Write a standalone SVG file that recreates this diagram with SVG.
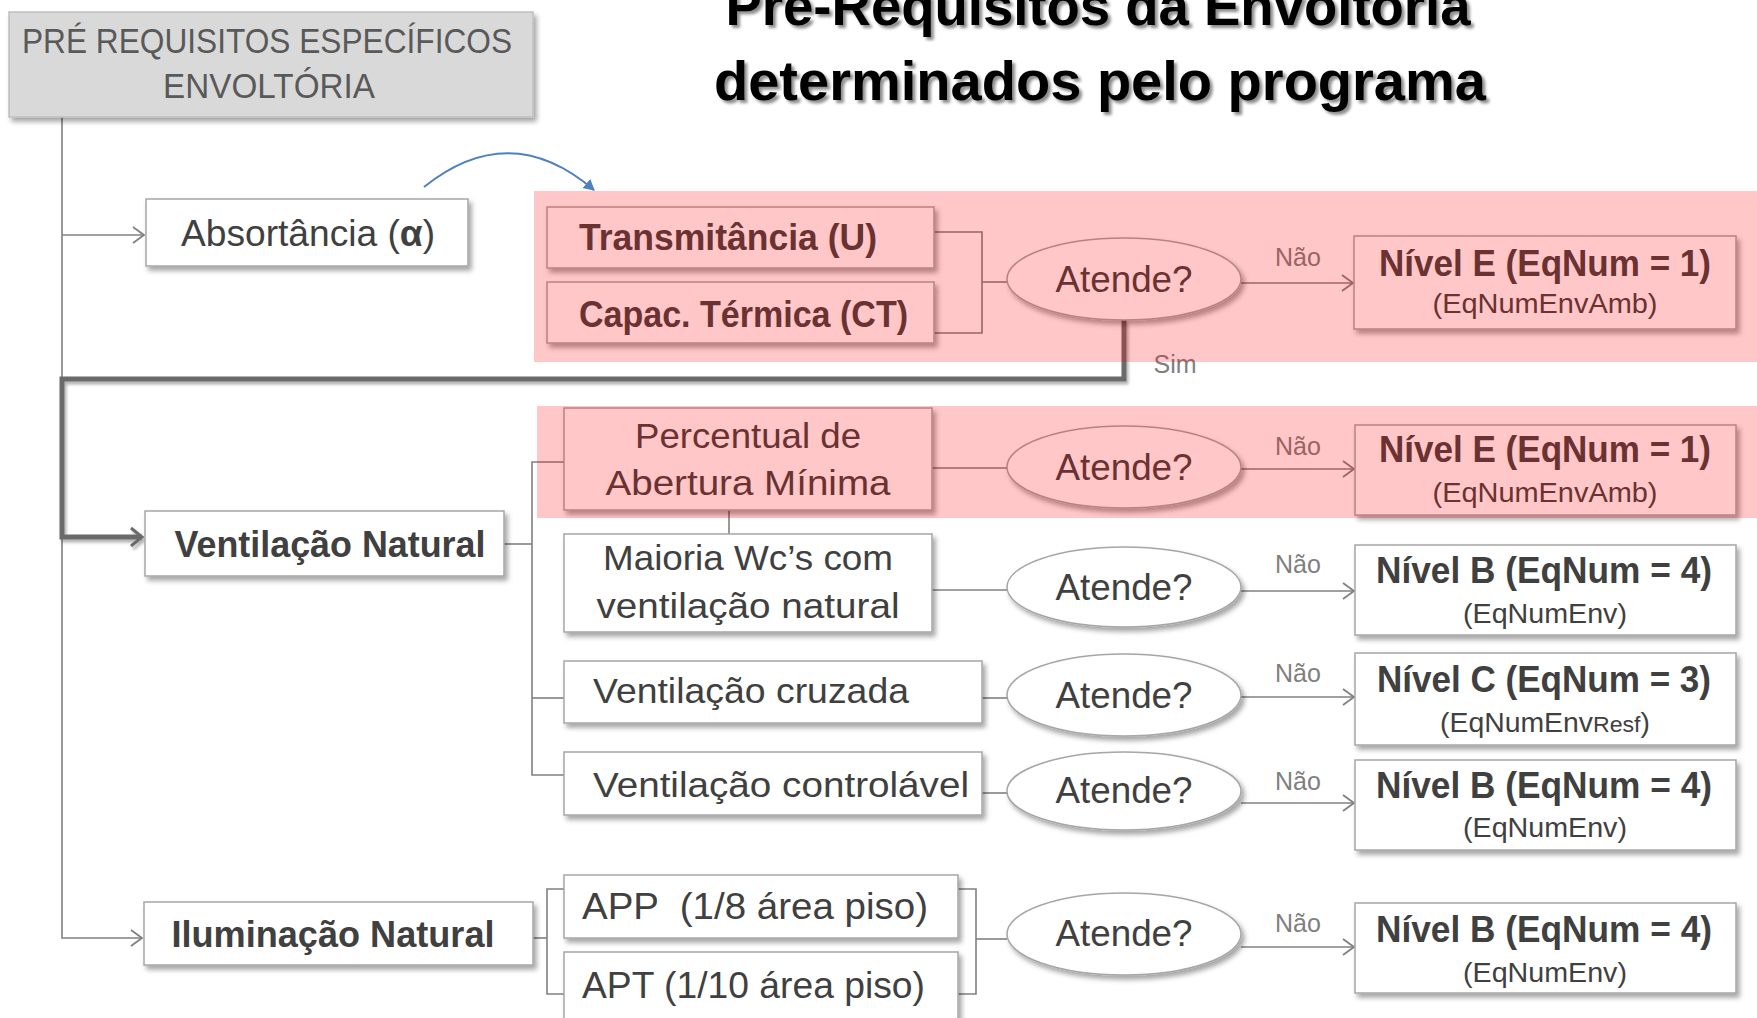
<svg xmlns="http://www.w3.org/2000/svg" width="1757" height="1018" viewBox="0 0 1757 1018">
<style>
.box{fill:#fff;stroke:#a6a6a6;stroke-width:1.5;filter:url(#sh)}
.hdr{fill:#d9d9d9;stroke:#bfbfbf;stroke-width:1.5;filter:url(#sh)}
.ell{fill:#fff;stroke:#a6a6a6;stroke-width:1.5;filter:url(#sh)}
.ln{stroke:#808080;stroke-width:1.6;fill:none}
.arr{marker-end:url(#chev)}
.thick{stroke:#6b6b6b;stroke-width:5;fill:none;marker-end:url(#chevT);filter:url(#shl)}
.t{font-family:'Liberation Sans',Arial,sans-serif;fill:#404040}
.b{font-weight:bold}
.m{text-anchor:middle}
.nao{font-family:'Liberation Sans',Arial,sans-serif;fill:#7f7f7f;font-size:25px;text-anchor:middle}
.pink{fill:#ff0000;fill-opacity:0.22}
.title{font-family:'Liberation Sans',Arial,sans-serif;font-weight:bold;font-size:56px;fill:#000;text-anchor:middle;filter:url(#tsh)}
</style>
<defs>
<filter id="sh" x="-10%" y="-20%" width="125%" height="150%">
<feDropShadow dx="3" dy="4" stdDeviation="2.5" flood-color="#000" flood-opacity="0.35"/>
</filter>
<filter id="shl" x="-5%" y="-5%" width="110%" height="115%">
<feDropShadow dx="2" dy="3" stdDeviation="1.5" flood-color="#000" flood-opacity="0.3"/>
</filter>
<filter id="tsh" x="-5%" y="-20%" width="110%" height="150%">
<feDropShadow dx="3" dy="3" stdDeviation="1.5" flood-color="#000" flood-opacity="0.45"/>
</filter>
<marker id="chev" markerUnits="userSpaceOnUse" markerWidth="16" markerHeight="20" refX="13" refY="10" orient="auto">
<path d="M2,2 L13,10 L2,18" fill="none" stroke="#808080" stroke-width="1.8"/>
</marker>
<marker id="chevT" markerUnits="userSpaceOnUse" markerWidth="18" markerHeight="24" refX="14" refY="12" orient="auto">
<path d="M3,3 L14,12 L3,21" fill="none" stroke="#6b6b6b" stroke-width="3"/>
</marker>
<marker id="blueArr" markerUnits="userSpaceOnUse" markerWidth="14" markerHeight="14" refX="10" refY="7" orient="auto">
<path d="M0,1 L11,7 L0,13 Z" fill="#4f81bd"/>
</marker>
</defs>

<text class="title" x="1098" y="25" textLength="745" lengthAdjust="spacingAndGlyphs">Pré-Requisitos da Envoltória</text>
<text class="title" x="1100" y="100" textLength="772" lengthAdjust="spacingAndGlyphs">determinados pelo programa</text>

<g id="connectors">
<path class="ln arr" d="M62,117 V938 H142"/>
<path class="ln arr" d="M62,235 H144"/>
<path d="M424,187 Q510,118 594,190" fill="none" stroke="#4f81bd" stroke-width="2" marker-end="url(#blueArr)"/>
<path class="ln" d="M934,232 H982 V333 H934"/>
<path class="ln" d="M982,282 H1007"/>
<path class="ln arr" d="M1241,283 H1353"/>
<path class="thick" d="M1124,320 V379 H62 V537 H142"/>
<path class="ln" d="M932,468 H1007"/>
<path class="ln arr" d="M1241,469 H1354"/>
<path class="ln" d="M504,544 H532"/>
<path class="ln" d="M564,462 H532 V775 H564"/>
<path class="ln" d="M532,698 H564"/>
<path class="ln" d="M729,510 V534"/>
<path class="ln" d="M932,590 H1007"/>
<path class="ln arr" d="M1241,591 H1354"/>
<path class="ln" d="M982,698 H1007"/>
<path class="ln arr" d="M1241,697 H1354"/>
<path class="ln" d="M982,793 H1007"/>
<path class="ln arr" d="M1241,803 H1354"/>
<path class="ln" d="M533,938 H547"/>
<path class="ln" d="M564,889 H547 V994 H564"/>
<path class="ln" d="M958,889 H976 V994 H958"/>
<path class="ln" d="M976,939 H1007"/>
<path class="ln arr" d="M1241,947 H1354"/>
<text class="nao" x="1298" y="266">Não</text>
<text class="nao" x="1298" y="455">Não</text>
<text class="nao" x="1298" y="573">Não</text>
<text class="nao" x="1298" y="682">Não</text>
<text class="nao" x="1298" y="790">Não</text>
<text class="nao" x="1298" y="932">Não</text>
<text class="nao" x="1175" y="373">Sim</text>
</g>

<g id="header">
<rect class="hdr" x="9" y="12" width="524" height="105"/>
<text class="t m" x="267" y="53" font-size="35" fill="#595959" style="fill:#595959" textLength="490" lengthAdjust="spacingAndGlyphs">PRÉ REQUISITOS ESPECÍFICOS</text>
<text class="t m" x="269" y="98" font-size="35" style="fill:#595959" textLength="212" lengthAdjust="spacingAndGlyphs">ENVOLTÓRIA</text>
</g>

<g id="absortancia">
<rect class="box" x="146" y="199" width="322" height="67"/>
<text class="t" x="181" y="246" font-size="37" textLength="254" lengthAdjust="spacingAndGlyphs">Absortância (<tspan font-weight="bold">α</tspan>)</text>
</g>

<g id="transmitancia">
<rect class="box" x="547" y="207" width="387" height="61"/>
<text class="t b" x="579" y="250" font-size="37" textLength="298" lengthAdjust="spacingAndGlyphs">Transmitância (U)</text>
</g>
<g id="capacidade">
<rect class="box" x="547" y="282" width="387" height="61"/>
<text class="t b" x="579" y="327" font-size="37" textLength="329" lengthAdjust="spacingAndGlyphs">Capac. Térmica (CT)</text>
</g>

<g id="atende1">
<ellipse class="ell" cx="1124" cy="279" rx="117" ry="41"/>
<text class="t m" x="1124" y="292" font-size="37" textLength="137" lengthAdjust="spacingAndGlyphs">Atende?</text>
</g>
<g id="nivel1">
<rect class="box" x="1354" y="236" width="382" height="93"/>
<text class="t m b" x="1545" y="276" font-size="36" textLength="332" lengthAdjust="spacingAndGlyphs">Nível E (EqNum = 1)</text>
<text class="t m" x="1545" y="313" font-size="27" textLength="225" lengthAdjust="spacingAndGlyphs">(EqNumEnvAmb)</text>
</g>

<g id="ventilacao-natural">
<rect class="box" x="145" y="511" width="359" height="65"/>
<text class="t m b" x="330" y="557" font-size="36" textLength="311" lengthAdjust="spacingAndGlyphs">Ventilação Natural</text>
</g>

<g id="percentual">
<rect class="box" x="564" y="408" width="368" height="102"/>
<text class="t m" x="748" y="448" font-size="35" textLength="226" lengthAdjust="spacingAndGlyphs">Percentual de</text>
<text class="t m" x="748" y="495" font-size="35" textLength="285" lengthAdjust="spacingAndGlyphs">Abertura Mínima</text>
</g>
<g id="atende2">
<ellipse class="ell" cx="1124" cy="467" rx="117" ry="41"/>
<text class="t m" x="1124" y="480" font-size="37" textLength="137" lengthAdjust="spacingAndGlyphs">Atende?</text>
</g>
<g id="nivel2">
<rect class="box" x="1355" y="425" width="381" height="90"/>
<text class="t m b" x="1545" y="462" font-size="36" textLength="332" lengthAdjust="spacingAndGlyphs">Nível E (EqNum = 1)</text>
<text class="t m" x="1545" y="502" font-size="27" textLength="225" lengthAdjust="spacingAndGlyphs">(EqNumEnvAmb)</text>
</g>

<g id="maioria">
<rect class="box" x="564" y="534" width="368" height="98"/>
<text class="t m" x="748" y="570" font-size="35" textLength="290" lengthAdjust="spacingAndGlyphs">Maioria Wc’s com</text>
<text class="t m" x="748" y="618" font-size="35" textLength="303" lengthAdjust="spacingAndGlyphs">ventilação natural</text>
</g>
<g id="atende3">
<ellipse class="ell" cx="1124" cy="587" rx="117" ry="40"/>
<text class="t m" x="1124" y="600" font-size="37" textLength="137" lengthAdjust="spacingAndGlyphs">Atende?</text>
</g>
<g id="nivel3">
<rect class="box" x="1355" y="545" width="381" height="90"/>
<text class="t m b" x="1544" y="583" font-size="36" textLength="336" lengthAdjust="spacingAndGlyphs">Nível B (EqNum = 4)</text>
<text class="t m" x="1545" y="623" font-size="27" textLength="164" lengthAdjust="spacingAndGlyphs">(EqNumEnv)</text>
</g>

<g id="cruzada">
<rect class="box" x="564" y="661" width="418" height="62"/>
<text class="t" x="593" y="703" font-size="35" textLength="316" lengthAdjust="spacingAndGlyphs">Ventilação cruzada</text>
</g>
<g id="atende4">
<ellipse class="ell" cx="1124" cy="695" rx="117" ry="41"/>
<text class="t m" x="1124" y="708" font-size="37" textLength="137" lengthAdjust="spacingAndGlyphs">Atende?</text>
</g>
<g id="nivel4">
<rect class="box" x="1355" y="653" width="381" height="92"/>
<text class="t m b" x="1544" y="692" font-size="36" textLength="334" lengthAdjust="spacingAndGlyphs">Nível C (EqNum = 3)</text>
<text class="t m" x="1545" y="732" font-size="27" textLength="210" lengthAdjust="spacingAndGlyphs">(EqNumEnv<tspan font-size="22">Resf</tspan>)</text>
</g>

<g id="controlavel">
<rect class="box" x="564" y="752" width="418" height="63"/>
<text class="t" x="593" y="797" font-size="35" textLength="376" lengthAdjust="spacingAndGlyphs">Ventilação controlável</text>
</g>
<g id="atende5">
<ellipse class="ell" cx="1124" cy="791" rx="117" ry="39"/>
<text class="t m" x="1124" y="803" font-size="37" textLength="137" lengthAdjust="spacingAndGlyphs">Atende?</text>
</g>
<g id="nivel5">
<rect class="box" x="1355" y="760" width="381" height="90"/>
<text class="t m b" x="1544" y="798" font-size="36" textLength="336" lengthAdjust="spacingAndGlyphs">Nível B (EqNum = 4)</text>
<text class="t m" x="1545" y="837" font-size="27" textLength="164" lengthAdjust="spacingAndGlyphs">(EqNumEnv)</text>
</g>

<g id="iluminacao">
<rect class="box" x="144" y="902" width="389" height="63"/>
<text class="t m b" x="333" y="947" font-size="36" textLength="323" lengthAdjust="spacingAndGlyphs">Iluminação Natural</text>
</g>
<g id="app">
<rect class="box" x="564" y="875" width="394" height="63"/>
<text class="t" x="582" y="919" font-size="36" xml:space="preserve" textLength="346" lengthAdjust="spacingAndGlyphs">APP  (1/8 área piso)</text>
</g>
<g id="apt">
<rect class="box" x="564" y="952" width="394" height="80"/>
<text class="t" x="582" y="998" font-size="36" textLength="343" lengthAdjust="spacingAndGlyphs">APT (1/10 área piso)</text>
</g>
<g id="atende6">
<ellipse class="ell" cx="1124" cy="934" rx="117" ry="41"/>
<text class="t m" x="1124" y="946" font-size="37" textLength="137" lengthAdjust="spacingAndGlyphs">Atende?</text>
</g>
<g id="nivel6">
<rect class="box" x="1355" y="903" width="381" height="90"/>
<text class="t m b" x="1544" y="942" font-size="36" textLength="336" lengthAdjust="spacingAndGlyphs">Nível B (EqNum = 4)</text>
<text class="t m" x="1545" y="982" font-size="27" textLength="164" lengthAdjust="spacingAndGlyphs">(EqNumEnv)</text>
</g>

<g id="highlights">
<rect class="pink" x="534" y="191" width="1223" height="171"/>
<rect class="pink" x="537" y="406" width="1220" height="112"/>
</g>
</svg>
